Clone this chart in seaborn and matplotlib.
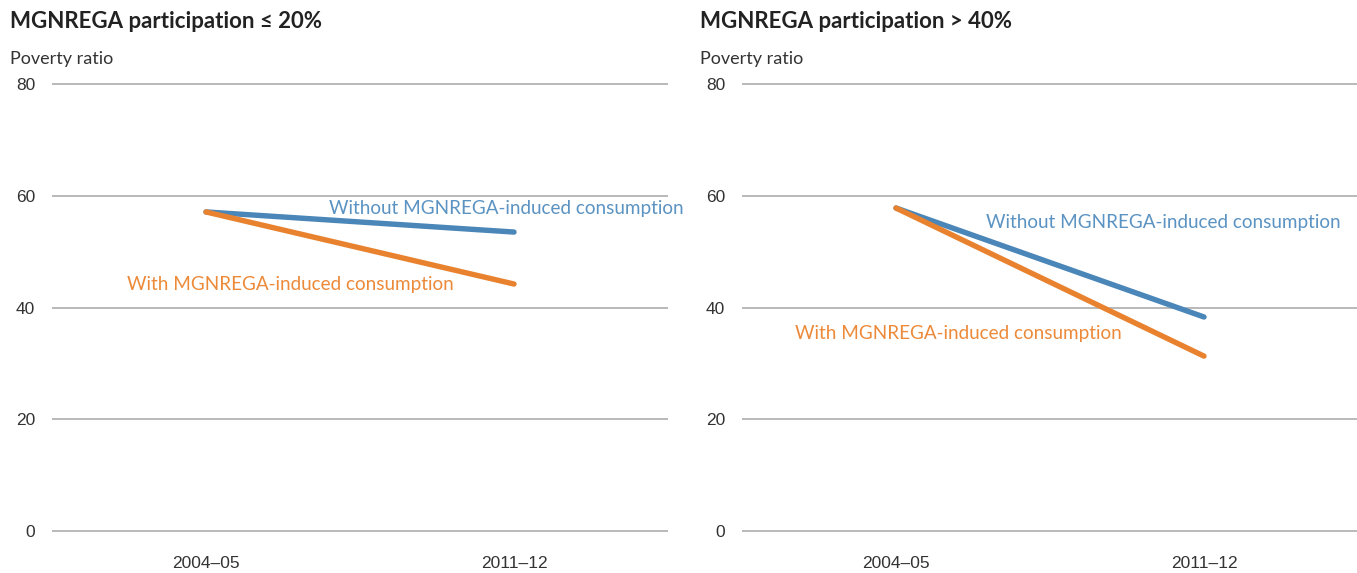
import matplotlib
matplotlib.use("Agg")
import matplotlib.pyplot as plt
import seaborn as sns
import pandas as pd

periods = ["2004–05", "2011–12"]
low_without = [57.1, 53.5]
low_with = [57.1, 44.2]
high_without = [57.8, 38.3]
high_with = [57.8, 31.3]
titles = ["MGNREGA participation ≤ 20%", "MGNREGA participation > 40%"]
series_names = ["Without MGNREGA-induced consumption", "With MGNREGA-induced consumption"]
yticks = [0, 20, 40, 60, 80]

sns.set_theme(style="white")
plt.rcParams["font.family"] = ["Lato", "DejaVu Sans"]

BLUE = "#4a86b8"
ORANGE = "#e8822f"
BLUE_T = "#5b93c2"
ORANGE_T = "#ec8a3a"

fig = plt.figure(figsize=(13.57, 5.73), dpi=100)

panels = [
    (low_without, low_with, [(0.40, 57.8), (-0.257, 44.2)]),
    (high_without, high_with, [(0.292, 55.3), (-0.328, 35.3)]),
]
lefts = [52 / 1357, 742 / 1357]
width = 616 / 1357
for i, (wo, wi, ann) in enumerate(panels):
    ax = fig.add_axes([lefts[i], 0.0635, width, 0.8632 - 0.0635])
    df = pd.DataFrame({
        "period": list(range(len(periods))) * 2,
        "value": wo + wi,
        "series": [series_names[0]] * len(periods) + [series_names[1]] * len(periods),
    })
    sns.lineplot(data=df, x="period", y="value", hue="series",
                 palette={series_names[0]: BLUE, series_names[1]: ORANGE},
                 linewidth=3.9, ax=ax, legend=False, solid_capstyle="round")
    ax.set_xlim(-0.5, 1.5)
    ax.set_ylim(-1, 81)
    ax.set_yticks(yticks)
    ax.set_xticks(range(len(periods)))
    ax.set_xticklabels(periods)
    for s in ax.spines.values():
        s.set_visible(False)
    ax.grid(False)
    for y in yticks:
        ax.axhline(y, color="#a6a6a6", lw=1.1, zorder=0)
    ax.tick_params(axis="y", length=0, pad=12, labelsize=12.5, labelcolor="#333333")
    ax.tick_params(axis="x", length=0, pad=14, labelsize=12.5, labelcolor="#333333")
    for lbl in ax.get_yticklabels() + ax.get_xticklabels():
        lbl.set_family(["Liberation Sans", "DejaVu Sans"])
    ax.set_xlabel("")
    ax.set_ylabel("")
    (x1, y1), (x2, y2) = ann
    ax.text(x1, y1, series_names[0], color=BLUE_T, fontsize=13.6, va="center", ha="left", clip_on=False)
    ax.text(x2, y2, series_names[1], color=ORANGE_T, fontsize=13.6, va="center", ha="left", clip_on=False)
    xf = (10 if i == 0 else 700) / 1357
    fig.text(xf, 1 - 22 / 573, titles[i], fontsize=16, fontweight="bold", color="#222222", va="center", ha="left")
    fig.text(xf, 1 - 59 / 573, "Poverty ratio", fontsize=13, color="#333333", va="center", ha="left")

fig.savefig("out.png", dpi=100)
